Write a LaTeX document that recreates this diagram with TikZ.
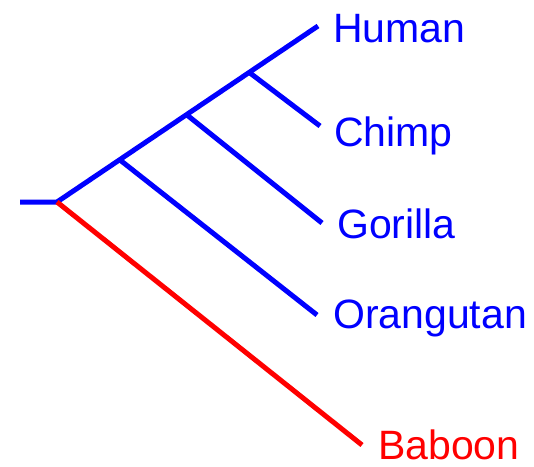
\documentclass[tikz,border=0pt]{standalone}
\usepackage{fontspec}
\setmainfont{Liberation Sans}
\usetikzlibrary{positioning}
\tikzset{clade/.style={draw=blue, line width=5pt, line join=round},
  outgrp/.style={draw=red, line width=5pt},
  taxon/.style={font=\fontsize{41}{41}\selectfont, inner sep=0pt, anchor=base west}}

\begin{document}
\begin{tikzpicture}[x=1pt, y=-1pt]
  \useasboundingbox (0,0) rectangle (534,466);
  % branch points
  \coordinate (stub) at (20,202);
  \coordinate (root) at (57,202);
  \coordinate (n1)   at (120,160);
  \coordinate (n2)   at (187,115);
  \coordinate (n3)   at (250,73);
  % tips
  \coordinate (thum) at (318,26);
  \coordinate (tchi) at (320,126);
  \coordinate (tgor) at (322,223);
  \coordinate (tora) at (317,315);
  \coordinate (tbab) at (362,445);
  % tree
  \draw[clade] (stub) -- (root) -- (thum);
  \draw[clade] (n3) -- (tchi);
  \draw[clade] (n2) -- (tgor);
  \draw[clade] (n1) -- (tora);
  \draw[outgrp] (root) -- (tbab);
  % names
  \node[taxon, text=blue] (human) at (333,42)  {Human};
  \node[taxon, text=blue] (chimp) at (334,146) {Chimp};
  \node[taxon, text=blue] (goril) at (337,238) {Gorilla};
  \node[taxon, text=blue] (orang) at (333,328) {Orangutan};
  \node[taxon, text=red]  (baboo) at (378,459) {Baboon};
\end{tikzpicture}
\end{document}
